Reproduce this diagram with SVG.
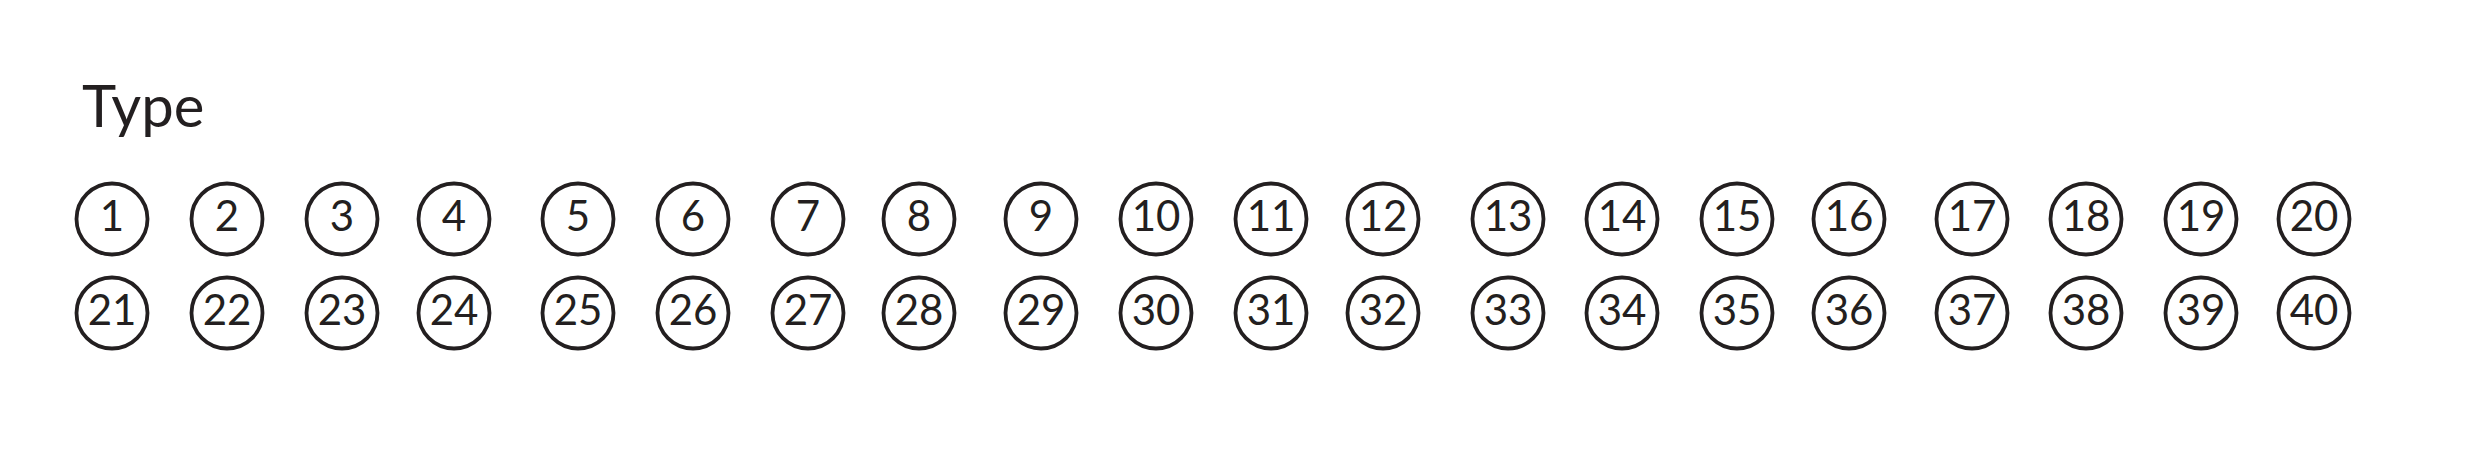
<svg xmlns="http://www.w3.org/2000/svg" width="2480" height="456" viewBox="0 0 2480 456">
<style>
.c{fill:#fff;stroke:#231f20;stroke-width:3.8}
.n{font-family:Lato,"Liberation Sans",sans-serif;font-size:42px;fill:#231f20;text-anchor:middle}
.t{font-family:Lato,"Liberation Sans",sans-serif;font-size:58px;fill:#231f20}
</style>
<rect width="2480" height="456" fill="#fff"/>
<text class="t" x="82" y="127">Type</text>
<g id="connectors"/>
<g id="n1"><circle class="c" cx="112" cy="219" r="35.5"/><text class="n" x="112" y="231">1</text></g>
<g id="n2"><circle class="c" cx="227" cy="219" r="35.5"/><text class="n" x="227" y="231">2</text></g>
<g id="n3"><circle class="c" cx="342" cy="219" r="35.5"/><text class="n" x="342" y="231">3</text></g>
<g id="n4"><circle class="c" cx="454" cy="219" r="35.5"/><text class="n" x="454" y="231">4</text></g>
<g id="n5"><circle class="c" cx="578" cy="219" r="35.5"/><text class="n" x="578" y="231">5</text></g>
<g id="n6"><circle class="c" cx="693" cy="219" r="35.5"/><text class="n" x="693" y="231">6</text></g>
<g id="n7"><circle class="c" cx="808" cy="219" r="35.5"/><text class="n" x="808" y="231">7</text></g>
<g id="n8"><circle class="c" cx="919" cy="219" r="35.5"/><text class="n" x="919" y="231">8</text></g>
<g id="n9"><circle class="c" cx="1041" cy="219" r="35.5"/><text class="n" x="1041" y="231">9</text></g>
<g id="n10"><circle class="c" cx="1156" cy="219" r="35.5"/><text class="n" x="1156" y="231">10</text></g>
<g id="n11"><circle class="c" cx="1271" cy="219" r="35.5"/><text class="n" x="1271" y="231">11</text></g>
<g id="n12"><circle class="c" cx="1383" cy="219" r="35.5"/><text class="n" x="1383" y="231">12</text></g>
<g id="n13"><circle class="c" cx="1508" cy="219" r="35.5"/><text class="n" x="1508" y="231">13</text></g>
<g id="n14"><circle class="c" cx="1622" cy="219" r="35.5"/><text class="n" x="1622" y="231">14</text></g>
<g id="n15"><circle class="c" cx="1737" cy="219" r="35.5"/><text class="n" x="1737" y="231">15</text></g>
<g id="n16"><circle class="c" cx="1849" cy="219" r="35.5"/><text class="n" x="1849" y="231">16</text></g>
<g id="n17"><circle class="c" cx="1972" cy="219" r="35.5"/><text class="n" x="1972" y="231">17</text></g>
<g id="n18"><circle class="c" cx="2086" cy="219" r="35.5"/><text class="n" x="2086" y="231">18</text></g>
<g id="n19"><circle class="c" cx="2201" cy="219" r="35.5"/><text class="n" x="2201" y="231">19</text></g>
<g id="n20"><circle class="c" cx="2314" cy="219" r="35.5"/><text class="n" x="2314" y="231">20</text></g>
<g id="n21"><circle class="c" cx="112" cy="313" r="35.5"/><text class="n" x="112" y="325">21</text></g>
<g id="n22"><circle class="c" cx="227" cy="313" r="35.5"/><text class="n" x="227" y="325">22</text></g>
<g id="n23"><circle class="c" cx="342" cy="313" r="35.5"/><text class="n" x="342" y="325">23</text></g>
<g id="n24"><circle class="c" cx="454" cy="313" r="35.5"/><text class="n" x="454" y="325">24</text></g>
<g id="n25"><circle class="c" cx="578" cy="313" r="35.5"/><text class="n" x="578" y="325">25</text></g>
<g id="n26"><circle class="c" cx="693" cy="313" r="35.5"/><text class="n" x="693" y="325">26</text></g>
<g id="n27"><circle class="c" cx="808" cy="313" r="35.5"/><text class="n" x="808" y="325">27</text></g>
<g id="n28"><circle class="c" cx="919" cy="313" r="35.5"/><text class="n" x="919" y="325">28</text></g>
<g id="n29"><circle class="c" cx="1041" cy="313" r="35.5"/><text class="n" x="1041" y="325">29</text></g>
<g id="n30"><circle class="c" cx="1156" cy="313" r="35.5"/><text class="n" x="1156" y="325">30</text></g>
<g id="n31"><circle class="c" cx="1271" cy="313" r="35.5"/><text class="n" x="1271" y="325">31</text></g>
<g id="n32"><circle class="c" cx="1383" cy="313" r="35.5"/><text class="n" x="1383" y="325">32</text></g>
<g id="n33"><circle class="c" cx="1508" cy="313" r="35.5"/><text class="n" x="1508" y="325">33</text></g>
<g id="n34"><circle class="c" cx="1622" cy="313" r="35.5"/><text class="n" x="1622" y="325">34</text></g>
<g id="n35"><circle class="c" cx="1737" cy="313" r="35.5"/><text class="n" x="1737" y="325">35</text></g>
<g id="n36"><circle class="c" cx="1849" cy="313" r="35.5"/><text class="n" x="1849" y="325">36</text></g>
<g id="n37"><circle class="c" cx="1972" cy="313" r="35.5"/><text class="n" x="1972" y="325">37</text></g>
<g id="n38"><circle class="c" cx="2086" cy="313" r="35.5"/><text class="n" x="2086" y="325">38</text></g>
<g id="n39"><circle class="c" cx="2201" cy="313" r="35.5"/><text class="n" x="2201" y="325">39</text></g>
<g id="n40"><circle class="c" cx="2314" cy="313" r="35.5"/><text class="n" x="2314" y="325">40</text></g>
</svg>
